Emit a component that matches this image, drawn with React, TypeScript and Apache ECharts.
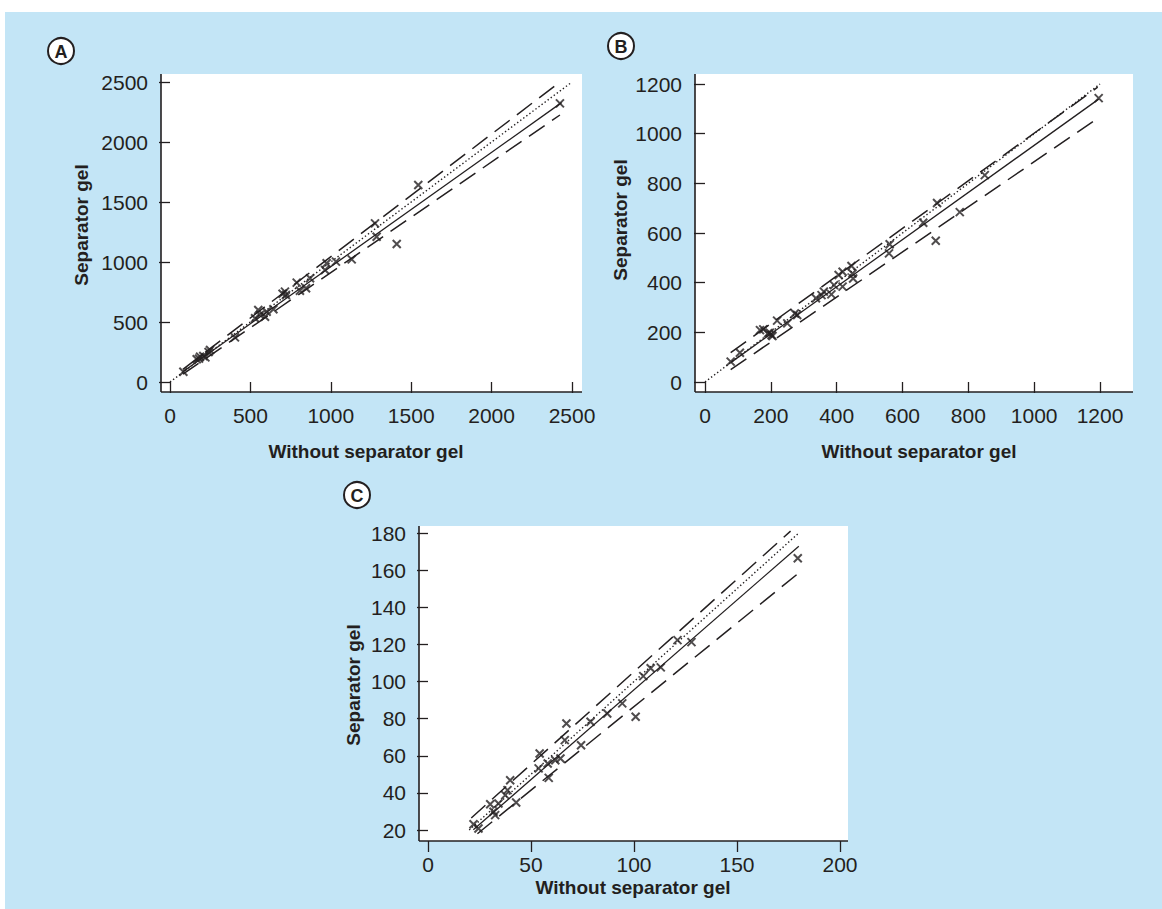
import React, { useEffect, useRef } from "react";
import * as echarts from "echarts";

// ---------- Panel A ----------
const aWithout = [83, 166, 187, 207, 180, 220, 249, 240, 404, 529, 549, 591, 601, 643, 560, 715, 721, 700, 788, 808, 846, 871, 964, 974, 1032, 1130, 1275, 1285, 1410, 1544, 2425];
const aSeparator = [86, 189, 211, 217, 195, 205, 267, 250, 372, 531, 600, 544, 586, 606, 560, 753, 725, 735, 828, 761, 781, 864, 933, 989, 1003, 1022, 1322, 1211, 1150, 1642, 2322];
const aIdentity = [[0, 0], [2500, 2500]];
const aRegression = [[80, 85], [2435, 2328]];
const aUpper = [[80, 105], [2415, 2490]];
const aLower = [[80, 65], [2425, 2225]];
const aTicks = { min: 0, max: 2500, interval: 500 };

// ---------- Panel B ----------
const bWithout = [78, 106, 167, 177, 197, 202, 192, 205, 219, 250, 273, 280, 337, 354, 361, 384, 392, 406, 418, 418, 445, 448, 450, 561, 559, 663, 705, 701, 774, 850, 1196];
const bSeparator = [82, 118, 209, 212, 198, 189, 196, 185, 247, 236, 276, 270, 337, 350, 364, 353, 390, 431, 444, 384, 467, 437, 417, 555, 518, 641, 721, 569, 684, 833, 1143];
const bIdentity = [[0, 0], [1200, 1200]];
const bRegression = [[78, 78], [1196, 1139]];
const bUpper = [[78, 118], [1193, 1187]];
const bLower = [[78, 50], [1193, 1062]];
const bTicks = { min: 0, max: 1200, interval: 200 };

// ---------- Panel C ----------
const cWithout = [22.1, 24.5, 30.2, 31.8, 32.6, 34.2, 37.5, 38.6, 39.9, 42.8, 53.7, 54.2, 58.1, 58.6, 61.8, 64.3, 66.4, 67.2, 74.3, 78.9, 87, 94.3, 100.8, 104.5, 108.1, 113, 121.1, 127.9, 179.5];
const cSeparator = [23.1, 20.8, 33.9, 29.8, 28, 34.3, 38.8, 41.5, 46.8, 34.8, 53.2, 61.2, 55.8, 48.1, 57.6, 58.5, 68.4, 77.4, 65.7, 78.3, 82.8, 88.2, 81, 102.9, 107.1, 107.6, 122.3, 121.2, 166.4];
const cIdentity = [[20, 20], [180, 180]];
const cRegression = [[22, 20.1], [180, 172.9]];
const cUpper = [[21, 26.5], [176, 181]];
const cLower = [[24, 18], [180, 158.5]];
const cXTicks = { min: 0, max: 200, interval: 50 };
const cYTicks = { min: 20, max: 180, interval: 20 };

const xTitle = "Without separator gel";
const yTitle = "Separator gel";
const panelLabels = ["A", "B", "C"];

const FONT = '"Liberation Sans", Arial, Helvetica, sans-serif';
const INK = "#231f20";
const BLUE = "#c3e5f6";

export default function App() {
  const ref = useRef<HTMLDivElement>(null);

  useEffect(() => {
    if (!ref.current) return;
    const chart = echarts.init(ref.current, undefined, { renderer: "svg" });

    const panels = [
      {
        grid: { left: 170, top: 82, width: 402, height: 300 },
        box: { x: 161, y: 74, w: 421, h: 318 },
        xt: aTicks, yt: aTicks, xOff: 10, yOff: 9,
        pts: aWithout.map((v, i) => [v, aSeparator[i]]),
        id: aIdentity, reg: aRegression, up: aUpper, lo: aLower,
        yTitle: { x: 81, y: 225 }, xTitle: { x: 366, y: 451 },
        label: { x: 61, y: 51 },
      },
      {
        grid: { left: 705, top: 84, width: 395, height: 298 },
        box: { x: 695, y: 74, w: 438, h: 318 },
        xt: bTicks, yt: bTicks, xOff: 10, yOff: 10,
        pts: bWithout.map((v, i) => [v, bSeparator[i]]),
        id: bIdentity, reg: bRegression, up: bUpper, lo: bLower,
        yTitle: { x: 620, y: 220 }, xTitle: { x: 919, y: 451 },
        label: { x: 621, y: 46 },
      },
      {
        grid: { left: 428, top: 533, width: 412, height: 297 },
        box: { x: 419, y: 526, w: 429, h: 315 },
        xt: cXTicks, yt: cYTicks, xOff: 11, yOff: 9,
        pts: cWithout.map((v, i) => [v, cSeparator[i]]),
        id: cIdentity, reg: cRegression, up: cUpper, lo: cLower,
        yTitle: { x: 353, y: 685 }, xTitle: { x: 633, y: 887 },
        label: { x: 357, y: 495 },
      },
    ];

    const grids: any[] = [];
    const xAxes: any[] = [];
    const yAxes: any[] = [];
    const series: any[] = [];
    const graphics: any[] = [
      { type: "rect", shape: { x: 0, y: 0, width: 1162, height: 12 }, style: { fill: "#fff" }, z: -10 },
      { type: "rect", shape: { x: 0, y: 0, width: 5, height: 909 }, style: { fill: "#fff" }, z: -10 },
    ];

    const axisCommon = (t: any, off: number) => ({
      type: "value",
      min: t.min,
      max: t.max,
      interval: t.interval,
      offset: off,
      axisLine: { show: false },
      axisTick: { show: true, length: 11, lineStyle: { color: INK, width: 1.3 } },
      axisLabel: {
        margin: 13,
        fontSize: 21,
        color: INK,
        fontFamily: FONT,
        formatter: (v: number) => String(v),
      },
      splitLine: { show: false },
    });

    const lineSeries = (gi: number, data: any, type: any, width: number) => ({
      type: "line",
      xAxisIndex: gi,
      yAxisIndex: gi,
      data,
      symbol: "none",
      showSymbol: false,
      clip: false,
      silent: true,
      lineStyle: { color: INK, width, type },
      z: 3,
    });

    panels.forEach((p, gi) => {
      grids.push({ ...p.grid, containLabel: false });
      xAxes.push({ gridIndex: gi, ...axisCommon(p.xt, p.xOff) });
      yAxes.push({ gridIndex: gi, ...axisCommon(p.yt, p.yOff) });
      series.push(lineSeries(gi, p.id, [1.4, 2.4], 1.4));
      series.push(lineSeries(gi, p.reg, "solid", 1.3));
      series.push(lineSeries(gi, p.up, [19, 9], 1.5));
      series.push(lineSeries(gi, p.lo, [19, 9], 1.5));
      series.push({
        type: "scatter",
        xAxisIndex: gi,
        yAxisIndex: gi,
        data: p.pts,
        symbol: "path://M0,0L10,10M10,0L0,10",
        symbolSize: 8,
        itemStyle: { color: "rgba(0,0,0,0)", borderColor: INK, borderWidth: 2 },
        z: 4,
      });

      const b = p.box;
      graphics.push({ type: "rect", shape: { x: b.x, y: b.y, width: b.w, height: b.h }, style: { fill: "#fff" }, z: -5 });
      graphics.push({ type: "line", shape: { x1: b.x, y1: b.y, x2: b.x, y2: b.y + b.h }, style: { stroke: INK, lineWidth: 1.6 }, z: 10 });
      graphics.push({ type: "line", shape: { x1: b.x, y1: b.y + b.h, x2: b.x + b.w, y2: b.y + b.h }, style: { stroke: INK, lineWidth: 1.6 }, z: 10 });

      graphics.push({
        type: "text",
        x: p.yTitle.x,
        y: p.yTitle.y,
        rotation: Math.PI / 2,
        style: { text: yTitle, font: `bold 19px ${FONT}`, fill: INK, align: "center", verticalAlign: "middle" },
        z: 10,
      });
      graphics.push({
        type: "text",
        x: p.xTitle.x,
        y: p.xTitle.y,
        style: { text: xTitle, font: `bold 19px ${FONT}`, fill: INK, align: "center", verticalAlign: "middle" },
        z: 10,
      });
      graphics.push({
        type: "circle",
        shape: { cx: p.label.x, cy: p.label.y, r: 13 },
        style: { fill: "#fff", stroke: INK, lineWidth: 2 },
        z: 10,
      });
      graphics.push({
        type: "text",
        x: p.label.x,
        y: p.label.y + 1,
        style: { text: panelLabels[gi], font: `bold 18px ${FONT}`, fill: INK, align: "center", verticalAlign: "middle" },
        z: 11,
      });
    });

    chart.setOption({
      animation: false,
      backgroundColor: BLUE,
      grid: grids,
      xAxis: xAxes,
      yAxis: yAxes,
      series,
      graphic: { elements: graphics },
    });

    return () => chart.dispose();
  }, []);

  return (
    <div
      ref={ref}
      style={{ position: "absolute", left: 0, top: 0, width: 1162, height: 909 }}
    />
  );
}
